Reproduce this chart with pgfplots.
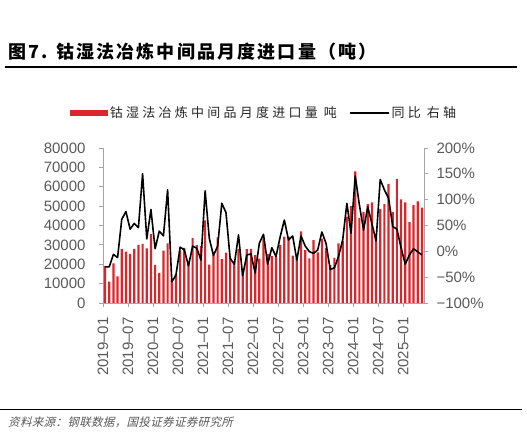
\documentclass[border=0pt]{standalone}
\usepackage{pgfplots}
\pgfplotsset{compat=1.18}
\usepackage{fontspec}
\setmainfont{Liberation Sans}
\newfontfamily\cjkt[LetterSpace=12]{Noto Sans CJK SC}
\newfontfamily\cjkl[LetterSpace=25]{Noto Sans CJK SC}
\newfontfamily\cjks[FakeSlant=0.25,LetterSpace=3]{Noto Sans CJK SC}
\definecolor{barred}{HTML}{D9262B}
\definecolor{txt}{HTML}{595959}
\definecolor{axgray}{HTML}{A6A6A6}

\pgfplotstableread{
x y
0.5 19000
1.5 11000
2.5 20500
3.5 13800
4.5 27900
5.5 26500
6.5 25300
7.5 27900
8.5 30000
9.5 30500
10.5 28200
11.5 35500
12.5 19700
13.5 15500
14.5 27000
15.5 30800
16.5 11700
17.5 14800
18.5 27000
19.5 28500
20.5 21500
21.5 33500
22.5 29900
23.5 29500
24.5 42700
25.5 19800
26.5 24800
27.5 33900
28.5 22600
29.5 26000
30.5 23200
31.5 21400
32.5 28000
33.5 17800
34.5 27800
35.5 28000
36.5 24800
37.5 22900
38.5 33000
39.5 25400
40.5 24200
41.5 24000
42.5 30000
43.5 34300
44.5 34200
45.5 24500
46.5 23100
47.5 37000
48.5 27300
49.5 23000
50.5 32500
51.5 26100
52.5 33200
53.5 28500
54.5 19500
55.5 23300
56.5 30800
57.5 32000
58.5 44600
59.5 50000
60.5 68000
61.5 44000
62.5 47000
63.5 51000
64.5 52000
65.5 33500
66.5 48500
67.5 51000
68.5 61500
69.5 47000
70.5 64000
71.5 53500
72.5 52000
73.5 41800
74.5 50500
75.5 52500
76.5 49200
}\barsdata

\pgfplotstableread{
x y
0.5 -30
1.5 -30
2.5 -6
3.5 -12
4.5 62
5.5 77
6.5 43
7.5 54
8.5 46
9.5 150
10.5 24
11.5 81
12.5 5
13.5 39
14.5 30
15.5 119
16.5 -59
17.5 -46
18.5 8
19.5 3
20.5 -28
21.5 10
22.5 6
23.5 -17
24.5 117
25.5 25
26.5 -8
27.5 10
28.5 93
29.5 75
30.5 -13.5
31.5 -25
32.5 31.6
33.5 -47
34.5 -7
35.5 -5
36.5 -42
37.5 15.5
38.5 33
39.5 -25
40.5 7
41.5 -10
42.5 28
43.5 60.6
44.5 22
45.5 29.7
46.5 -16.8
47.5 29.7
48.5 10.3
49.5 -0.6
50.5 -3.9
51.5 2.6
52.5 37.4
53.5 15.5
54.5 -35
55.5 -32
56.5 -10
57.5 22
58.5 93
59.5 35
60.5 146
61.5 90
62.5 41
63.5 86
64.5 54
65.5 20
66.5 139
67.5 119
68.5 103
69.5 48
70.5 43
71.5 7
72.5 -25
73.5 -7
74.5 5
75.5 -1
76.5 -7
}\yoydata

\begin{document}
\begin{tikzpicture}
\useasboundingbox (0pt,0pt) rectangle (527pt,436pt);
\node[anchor=west, inner sep=0, text=black] at (8pt,384pt) {\cjkt\fontsize{18}{20}\selectfont\bfseries 图7. 钴湿法冶炼中间品月度进口量（吨）};
\draw[line width=1.2pt] (5pt,369pt) -- (517pt,369pt);
\draw[line width=1pt] (0pt,26pt) -- (522pt,26pt);
\node[anchor=west, inner sep=0, text=txt] at (8pt,14pt) {\cjks\fontsize{11.5}{13}\selectfont 资料来源：钢联数据，国投证券证券研究所};

\begin{axis}[
  at={(103pt,133pt)}, anchor=south west,
  scale only axis, width=321pt, height=155pt,
  xmin=0, xmax=77, ymin=0, ymax=80000,
  axis x line*=bottom, axis y line*=left,
  axis line style={axgray, line width=0.8pt},
  xtick={0,6,...,72},
  xticklabels={2019--01,2019--07,2020--01,2020--07,2021--01,2021--07,2022--01,2022--07,2023--01,2023--07,2024--01,2024--07,2025--01},
  xticklabel style={rotate=90, anchor=east, font=\fontsize{15}{17}\selectfont, text=txt},
  xticklabel shift=7pt,
  ytick={0,10000,...,80000},
  yticklabel style={font=\fontsize{15}{17}\selectfont, text=txt},
  yticklabel shift=10pt,
  scaled y ticks=false,
  /pgf/number format/.cd, 1000 sep={}, assume math mode=true,
  /pgfplots/.cd,
  tick align=outside, major tick length=4pt,
  tick style={axgray, line width=0.8pt},
  legend columns=2,
  legend style={at={(0.5016,1)}, anchor=center, yshift=35pt, draw=none, fill=none,
    font=\cjkl\fontsize{13}{15}\selectfont, text=black!85,
    /tikz/every even column/.append style={column sep=10pt}},
]
\addplot[ybar, bar width=2.2pt, bar shift=0pt, fill=barred, draw=none,
  legend image code/.code={\fill[barred] (-3pt,-3pt) rectangle (35pt,3pt);}]
  table[x=x,y=y] {\barsdata};
\addlegendentry{钴湿法冶炼中间品月度进口量 吨}
\addlegendimage{black, line width=1.5pt, legend image code/.code={\draw[black, line width=1.5pt] (-2pt,0pt) -- (37pt,0pt);}}
\addlegendentry{同比 右轴}
\end{axis}

\begin{axis}[
  at={(103pt,133pt)}, anchor=south west,
  scale only axis, width=321pt, height=155pt,
  xmin=0, xmax=77, ymin=-100, ymax=200,
  axis x line=none, axis y line*=right,
  axis line style={axgray, line width=0.8pt},
  ytick={-100,-50,0,50,100,150,200},
  yticklabels={−100\%,−50\%,0\%,50\%,100\%,150\%,200\%},
  yticklabel style={font=\fontsize{15}{17}\selectfont, text=txt},
  yticklabel shift=5pt,
  tick align=outside, major tick length=4pt,
  tick style={axgray, line width=0.8pt},
]
\addplot[black, line width=1.6pt, line join=round, mark=none] table[x=x,y=y] {\yoydata};
\end{axis}
\end{tikzpicture}
\end{document}
